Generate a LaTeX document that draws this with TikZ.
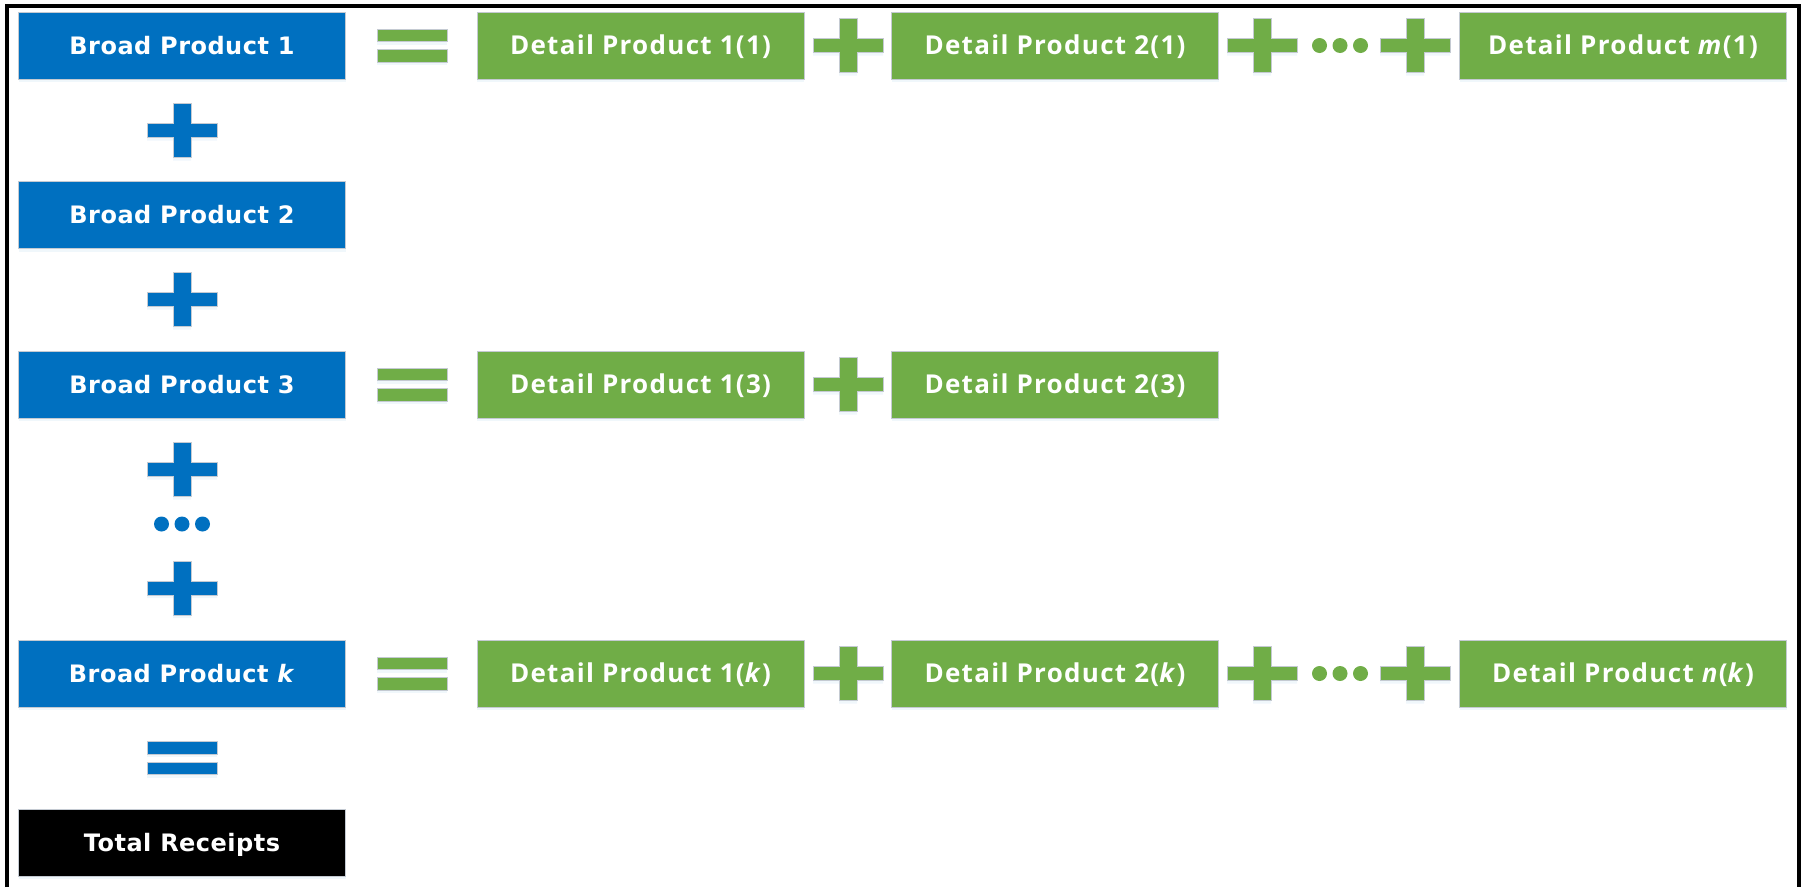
\documentclass[tikz,border=0pt]{standalone}
\usepackage{fontspec}
\usepackage{tikz}
\usetikzlibrary{shadows}
\newfontfamily\broadfont{DejaVu Sans}[LetterSpace=2]
\newfontfamily\detailfont{Open Sans}[LetterSpace=5]
\definecolor{broad}{RGB}{0, 112, 192}
\definecolor{detail}{RGB}{112, 173, 71}
\definecolor{edge}{RGB}{196, 202, 210}

\begin{document}
\begin{tikzpicture}[x=1pt, y=-1pt,
    soft/.style={drop shadow={shadow xshift=0pt, shadow yshift=-3pt, opacity=0.15, fill=broad!40}},
    box/.style={soft, draw=edge, line width=0.8, minimum width=327pt, minimum height=67pt, inner sep=0pt, text=white},
    broadbox/.style={box, fill=broad, font=\broadfont\bfseries\fontsize{24}{28}\selectfont, text height=17.5pt, text depth=0pt},
    detailbox/.style={box, fill=detail, font=\detailfont\bfseries\fontsize{26}{30}\selectfont, text height=18.5pt, text depth=0pt},
    sign/.style={soft, draw=edge, line width=0.8}]
  \useasboundingbox (0, 0) rectangle (1806, 887);
  \draw[line width=4] (6.5, 887) -- (6.5, 5.5) -- (1799, 5.5) -- (1799, 887);

  % broad products down the left
  \node[broadbox] (bp1) at (182, 45.5) {Broad Product 1};
  \node[broadbox] (bp2) at (182, 215) {Broad Product 2};
  \node[broadbox] (bp3) at (182, 384.5) {Broad Product 3};
  \node[broadbox] (bpk) at (182, 673.5) {Broad Product \textit{k}};
  \node[broadbox, fill=black] (total) at (182, 842.5) {Total Receipts};

  % detail products
  \node[detailbox] (dp11) at (640.5, 45.5) {Detail Product 1(1)};
  \node[detailbox] (dp21) at (1055, 45.5) {Detail Product 2(1)};
  \node[detailbox] (dpm1) at (1623, 45.5) {Detail Product \textit{m}(1)};
  \node[detailbox] (dp13) at (640.5, 384.5) {Detail Product 1(3)};
  \node[detailbox] (dp23) at (1055, 384.5) {Detail Product 2(3)};
  \node[detailbox] (dp1k) at (640.5, 673.5) {Detail Product 1(\textit{k})};
  \node[detailbox] (dp2k) at (1055, 673.5) {Detail Product 2(\textit{k})};
  \node[detailbox] (dpnk) at (1623, 673.5) {Detail Product \textit{n}(\textit{k})};

  \foreach \x/\y/\c in {182/130.5/broad, 182/299.5/broad, 182/469.5/broad, 182/588/broad, 848/45.5/detail, 1262/45.5/detail, 1415/45.5/detail, 848/384.5/detail, 848/673.5/detail, 1262/673.5/detail, 1415/673.5/detail} {
    \filldraw[sign, fill=\c] (\x-9, \y-27) -- (\x+9, \y-27) -- (\x+9, \y-7) -- (\x+35, \y-7) -- (\x+35, \y+7) -- (\x+9, \y+7) -- (\x+9, \y+27) -- (\x-9, \y+27) -- (\x-9, \y+7) -- (\x-35, \y+7) -- (\x-35, \y-7) -- (\x-9, \y-7) -- cycle;
  }

  \foreach \x/\y/\c in {412/45.5/detail, 412/384.5/detail, 412/673.5/detail, 182/758/broad} {
    \filldraw[sign, fill=\c] (\x-35, \y-16.5) rectangle (\x+35, \y-4);
    \filldraw[sign, fill=\c] (\x-35, \y+4) rectangle (\x+35, \y+16.5);
  }

  \foreach \x/\y/\c in {182/524/broad, 1340/45.5/detail, 1340/673.5/detail} {
    \foreach \d in {-20.5, 0, 20.5}
      \fill[\c] (\x+\d, \y) circle (7.5pt);
  }

\end{tikzpicture}
\end{document}
